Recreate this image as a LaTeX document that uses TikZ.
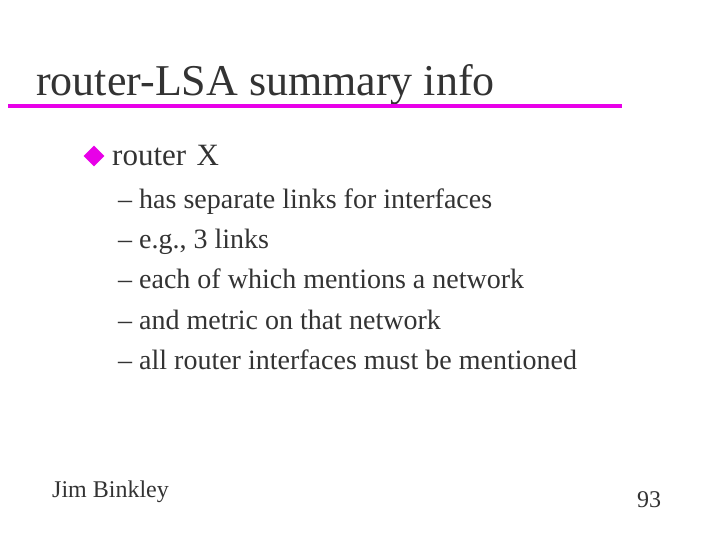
\documentclass[tikz,border=0pt]{standalone}
\usepackage{fontspec}
\setmainfont{Liberation Serif}
\usetikzlibrary{shapes.geometric}
\definecolor{txt}{HTML}{333333}
\definecolor{mag}{HTML}{E800E8}
\begin{document}
\begin{tikzpicture}[x=1pt,y=-1pt,
  every node/.style={inner sep=0pt,text=txt},
  item/.style={anchor=base west,font=\fontsize{28}{32}\selectfont}]
\useasboundingbox (0,0) rectangle (720,540);
\node[anchor=base west,font=\fontsize{44}{50}\selectfont] (title) at (36,96) {router-LSA summary info};
\draw[mag,line width=4pt] (8,106) -- (622,106);
\node[diamond,fill=mag,minimum width=21pt,minimum height=21pt] (bul) at (94,156) {};
\node[anchor=base west,font=\fontsize{31}{36}\selectfont] (rx) at (112,166) {router\,\,X};
\node[item] (i1) at (118,208) {– has separate links for interfaces};
\node[item] (i2) at (118,248) {– e.g., 3 links};
\node[item] (i3) at (118,288) {– each of which mentions a network};
\node[item] (i4) at (118,329) {– and metric on that network};
\node[item] (i5) at (118,369) {– all router interfaces must be mentioned};
\node[anchor=base west,font=\fontsize{24}{28}\selectfont] (jb) at (52,497) {Jim Binkley};
\node[anchor=base west,font=\fontsize{24}{28}\selectfont] (pn) at (637,507) {93};
\end{tikzpicture}
\end{document}
